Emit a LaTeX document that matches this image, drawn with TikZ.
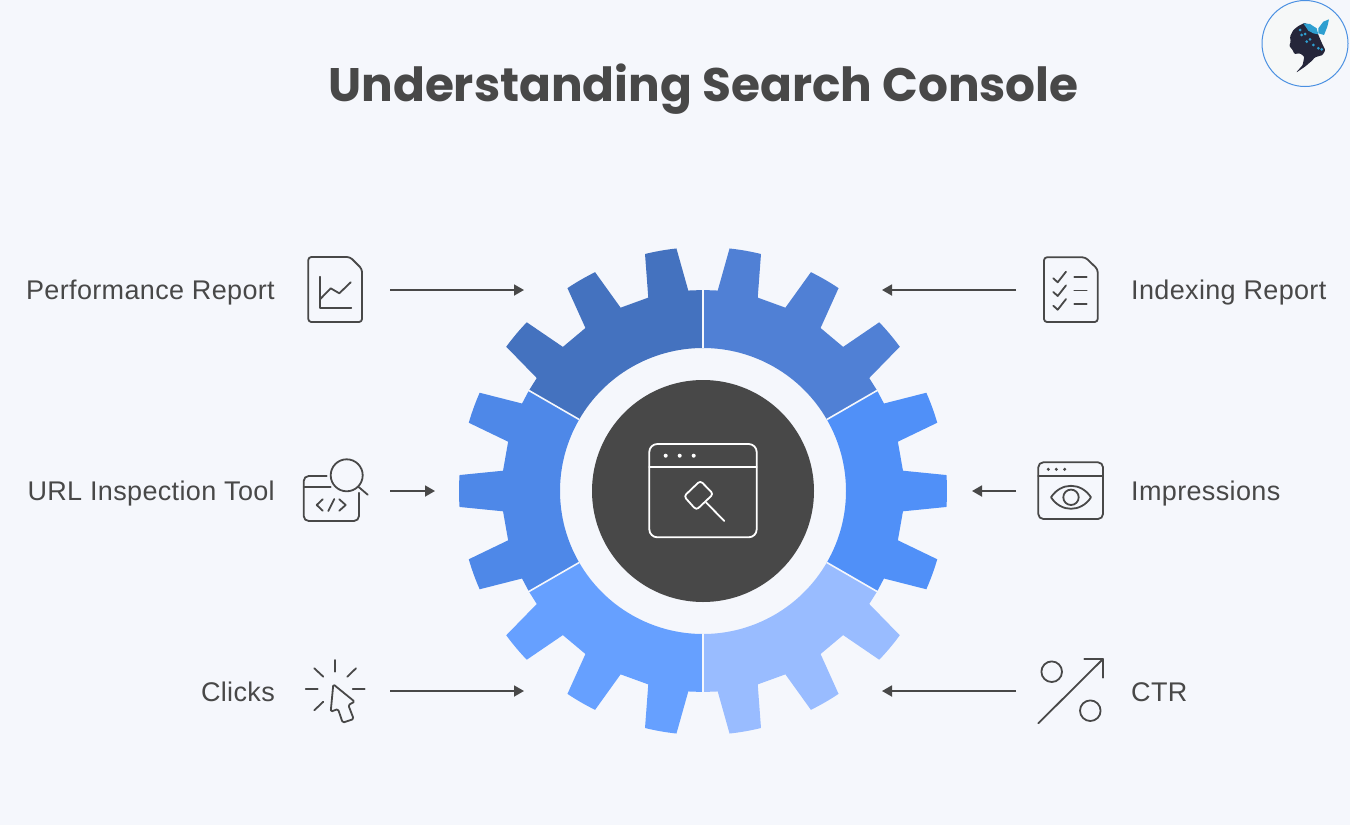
\documentclass[tikz,border=0pt]{standalone}
\usepackage{fontspec}
\setmainfont{Liberation Sans}[LetterSpace=1.3]
\newfontfamily\titlefont{Poppins}
\usetikzlibrary{arrows.meta}
\definecolor{bg}{HTML}{F5F7FC}
\definecolor{ink}{HTML}{484848}
\definecolor{gA}{HTML}{4472BF}
\definecolor{gB}{HTML}{5080D5}
\definecolor{gC}{HTML}{5090F8}
\definecolor{gD}{HTML}{99BCFF}
\definecolor{gE}{HTML}{66A0FF}
\definecolor{gF}{HTML}{4E88E8}
\definecolor{avatarblue}{HTML}{4A90E2}
\definecolor{avatarbg}{HTML}{F6F8F8}
\definecolor{hair}{HTML}{25263A}
\definecolor{wing}{HTML}{2E9FD0}
\tikzset{
  icon/.style={draw=ink,line width=1.8pt,line cap=round,line join=round,fill=none},
  wicon/.style={draw=white,line width=1.8pt,line cap=round,line join=round,fill=none},
  lab/.style={font=\fontsize{27}{30}\selectfont,text=ink,inner sep=0pt},
  labl/.style={lab,anchor=base east},
  labr/.style={lab,anchor=base west},
  conn/.style={draw=ink,line width=1.8pt,-{Triangle[length=10pt,width=11pt]}},
  seam/.style={draw=bg,line width=1.6pt}
}
% a gear sector, beginning at math angle #1 and running 60 degrees
\newcommand{\gearsector}[2]{%
 \fill[#2,shift={(703,491)},y=1pt] (#1:143) -- (#1:201) -- (#1+4.2:201)
 \foreach \c in {10,30,50}{ -- (#1+\c-5.8:201) -- (#1+\c-3.75:244) arc[start angle=#1+\c-3.75,end angle=#1+\c+3.75,radius=244] -- (#1+\c+5.8:201) }
 -- (#1+55.8:201) -- (#1+60:201) -- (#1+60:143) arc[start angle=#1+60,end angle=#1,radius=143] -- cycle;}
\begin{document}
\begin{tikzpicture}[x=1pt,y=-1pt]
\useasboundingbox (0,0) rectangle (1350,825);
\fill[bg] (0,0) rectangle (1350,825);
\node[font=\titlefont\bfseries\fontsize{47}{50}\selectfont,text=ink,inner sep=0pt,anchor=base] (title) at (703.5,101) {Understanding Search Console};

% gear
\gearsector{90}{gA}
\gearsector{30}{gB}
\gearsector{-30}{gC}
\gearsector{-90}{gD}
\gearsector{-150}{gE}
\gearsector{150}{gF}
\begin{scope}[shift={(703,491)},y=1pt]
\foreach \a in {30,90,...,330} \draw[seam] (\a:143) -- (\a:202);
\end{scope}
\node[circle,fill=ink,minimum size=222pt,inner sep=0pt] (hub) at (703,491) {};

% hub icon
\draw[wicon,rounded corners=8pt] (649.3,444) rectangle (756.7,537.3);
\draw[wicon] (649.3,467.3) -- (756.7,467.3);
\foreach \x in {665.7,679.7,693.7} \fill[white] (\x,455.7) circle[radius=2];
\draw[wicon,rounded corners=3pt] (700.3,480.7) -- (713.3,494) -- (696.3,510) -- (684,496.3) -- cycle;
\draw[wicon] (706,502.3) -- (724.3,521);

% labels
\node[labl] (l1) at (275,299.5) {Performance Report};
\node[labl] (l2) at (275,500.5) {URL Inspection Tool};
\node[labl] (l3) at (275,701) {Clicks};
\node[labr] (r1) at (1131,299.5) {Indexing Report};
\node[labr] (r2) at (1131,500.5) {Impressions};
\node[labr] (r3) at (1131,701) {CTR};

% connectors
\coordinate (as1) at (390,290); \coordinate (ae1) at (524,290);
\coordinate (as2) at (390,491); \coordinate (ae2) at (435,491);
\coordinate (as3) at (390,691); \coordinate (ae3) at (524,691);
\coordinate (bs1) at (1016,290); \coordinate (be1) at (882,290);
\coordinate (bs2) at (1016,491); \coordinate (be2) at (972,491);
\coordinate (bs3) at (1016,691); \coordinate (be3) at (882,691);
\foreach \s/\e in {as1/ae1,as2/ae2,as3/ae3,bs1/be1,bs2/be2,bs3/be3} \draw[conn] (\s) -- (\e);

% performance icon
\draw[icon,rounded corners=3pt] (308.3,257) -- (350,257) -- (362,269) -- (362,322) -- (308.3,322) -- cycle;
\draw[icon] (320,276.7) -- (320,307.7) -- (351.3,307.7);
\draw[icon] (320,299.3) -- (330.7,288.3) -- (339.3,293.3) -- (350.7,282.3);

% url icon
\draw[icon] (346.7,475.3) circle[radius=16];
\draw[icon] (358.3,486.7) -- (367.7,494.7);
\draw[icon,rounded corners=5pt] (326.7,476) -- (303.7,476) -- (303.7,521) -- (359,521) -- (359,492.7);
\draw[icon] (303.7,487.3) -- (330.7,487.3);
\draw[icon] (322.7,499.3) -- (316.7,505) -- (322.7,510.7);
\draw[icon] (334.3,499) -- (328.3,511);
\draw[icon] (339.3,499.3) -- (345.7,505) -- (339.3,510.7);

% clicks icon
\draw[icon] (335,660) -- (335,671.7);
\draw[icon] (314.3,668.3) -- (323.3,676.7);
\draw[icon] (356,668.3) -- (347.3,676.7);
\draw[icon] (305.7,689.3) -- (317.7,689.3);
\draw[icon] (352.7,689.3) -- (364.7,689.3);
\draw[icon] (314.3,710.3) -- (323.3,701.7);
\draw[icon,rounded corners=1.5pt] (333.3,684.3) -- (354.7,701.7) -- (348.3,705) -- (353.7,719) -- (342.7,722.7) -- (338,709) -- (330.7,711.7) -- cycle;

% indexing icon
\draw[icon,rounded corners=3pt] (1044,257.3) -- (1085.3,257.3) -- (1097.7,269.3) -- (1097.7,322) -- (1044,322) -- cycle;
\foreach \d in {0,13.7,27.4}{
 \draw[icon] (1053.3,278.3+\d) -- (1057.7,282.3+\d) -- (1066,271.7+\d);
 \draw[icon] (1074.3,276.7+\d) -- (1086.7,276.7+\d);
}

% impressions icon
\draw[icon,rounded corners=5pt] (1038.3,462.3) rectangle (1103,519);
\draw[icon] (1038.3,475.7) -- (1103,475.7);
\foreach \x in {1048.3,1056.3,1064.7} \fill[ink] (\x,469.3) circle[radius=1.7];
\draw[icon] (1051,497.3) .. controls (1061,482) and (1081,482) .. (1091,497.3) .. controls (1081,512.6) and (1061,512.6) .. cycle;
\draw[icon] (1071,497.3) circle[radius=7.7];

% ctr icon
\draw[icon] (1051.7,671.7) circle[radius=10.3];
\draw[icon] (1090.3,710.7) circle[radius=10.3];
\draw[icon] (1038.3,723.3) -- (1103,659);
\draw[icon] (1084.3,659) -- (1103,659) -- (1103,677.7);

% avatar
\draw[avatarblue,fill=avatarbg,line width=1pt] (1305,43.5) circle[radius=43];
\begin{scope}[shift={(1250,0)},x=0.3333pt,y=-0.3333pt]
\fill[hair,rounded corners=1pt] (138,218) -- (158,195) -- (163,170) -- (150,160) -- (133,162) -- (128,150) -- (118,138) -- (122,125) -- (120,110) -- (130,90) -- (145,78) -- (165,68) -- (185,85) -- (203,100) -- (216,130) -- (226,150) -- (218,165) -- (195,172) -- (185,183) -- (165,200) -- cycle;
\fill[wing] (160,70) -- (180,72) -- (200,85) -- (205,103) -- (190,100) -- (175,92) -- cycle;
\fill[wing] (205,85) -- (220,65) -- (237,58) -- (232,80) -- (222,105) -- (205,100) -- cycle;
\foreach \x/\y in {150/90,165/102,155/105,180/118,170/125,190/135,205/145,215/148} \fill[wing] (\x,\y) circle[radius=4.5];
\end{scope}
\end{tikzpicture}
\end{document}
